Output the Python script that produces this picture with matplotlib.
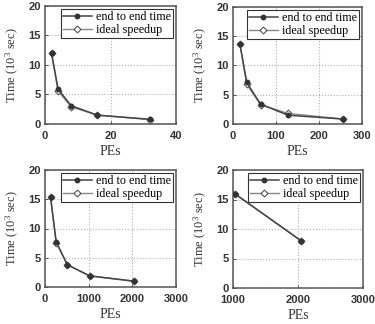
import matplotlib
matplotlib.use("Agg")
import matplotlib.pyplot as plt

# data
pes_a = [2, 4, 8, 16, 32]
e2e_a = [12.0, 5.9, 3.1, 1.5, 0.8]
ideal_a = [12.0, 5.6, 2.9, 1.5, 0.75]
xlim_a = (0, 40)
xticks_a = [0, 20, 40]

pes_b = [16, 32, 64, 128, 256]
e2e_b = [13.7, 7.1, 3.4, 1.5, 0.85]
ideal_b = [13.7, 6.8, 3.3, 1.8, 0.85]
xlim_b = (0, 300)
xticks_b = [0, 100, 200, 300]

pes_c = [128, 256, 512, 1024, 2048]
e2e_c = [15.3, 7.7, 3.8, 1.9, 1.0]
ideal_c = [15.3, 7.6, 3.8, 1.9, 0.95]
xlim_c = (0, 3000)
xticks_c = [0, 1000, 2000, 3000]

pes_d = [1024, 2048]
e2e_d = [16.0, 8.0]
ideal_d = [16.0, 8.0]
xlim_d = (1000, 3000)
xticks_d = [1000, 2000, 3000]

yticks = [0, 5, 10, 15, 20]

serif = ["Liberation Serif", "DejaVu Serif"]
sans = ["Liberation Sans", "DejaVu Sans"]
plt.rcParams["mathtext.default"] = "regular"

fig = plt.figure(figsize=(3.75, 3.24), dpi=100)
W, H = 375.0, 324.0
boxes = [(45, 6, 176, 124), (233, 7, 362, 124),
         (45, 170, 176, 287), (233, 170, 363, 288)]

panels = [
    (pes_a, e2e_a, ideal_a, xlim_a, xticks_a),
    (pes_b, e2e_b, ideal_b, xlim_b, xticks_b),
    (pes_c, e2e_c, ideal_c, xlim_c, xticks_c),
    (pes_d, e2e_d, ideal_d, xlim_d, xticks_d),
]

for (l, t, r, b), (x, y1, y2, xl, xt) in zip(boxes, panels):
    ax = fig.add_axes([l / W, 1 - b / H, (r - l) / W, (b - t) / H])
    ax.plot(x, y2, color="#888888", lw=1.0, marker="D", ms=3.5,
            mfc="white", mec="#555555", mew=0.8, label="ideal speedup", zorder=2)
    ax.plot(x, y1, color="#444444", lw=1.1, marker="o", ms=3.2,
            mfc="#333333", mec="#333333", label="end to end time", zorder=3)
    ax.set_xlim(*xl)
    ax.set_ylim(0, 20)
    ax.set_xticks(xt)
    ax.set_yticks(yticks)
    ax.grid(True, ls=":", color="#b0b0b0", lw=0.8)
    for s in ax.spines.values():
        s.set_color("#555555")
        s.set_linewidth(1.1)
    ax.tick_params(direction="in", length=2, width=0.6, labelsize=8,
                   colors="#333333")
    ax.tick_params(axis="y", pad=3)
    ax.tick_params(axis="x", pad=5)
    for lab in ax.get_xticklabels() + ax.get_yticklabels():
        lab.set_family(sans)
        lab.set_fontweight("bold")
    ax.set_xlabel("PEs", family=serif, fontsize=10, color="#333333", labelpad=3)
    ax.set_ylabel("Time (10$^3$ sec)", family=serif, fontsize=9,
                  color="#333333", labelpad=5)
    h, lb = ax.get_legend_handles_labels()
    leg = ax.legend(h[::-1], lb[::-1], loc="upper right",
                    prop={"family": serif, "size": 8.7}, fancybox=False,
                    edgecolor="#333333", framealpha=1, borderpad=0.2,
                    labelspacing=0.05, handlelength=2.4, handletextpad=0.3,
                    borderaxespad=0.25)
    leg.get_frame().set_linewidth(0.8)

fig.savefig("out.png", dpi=100)
